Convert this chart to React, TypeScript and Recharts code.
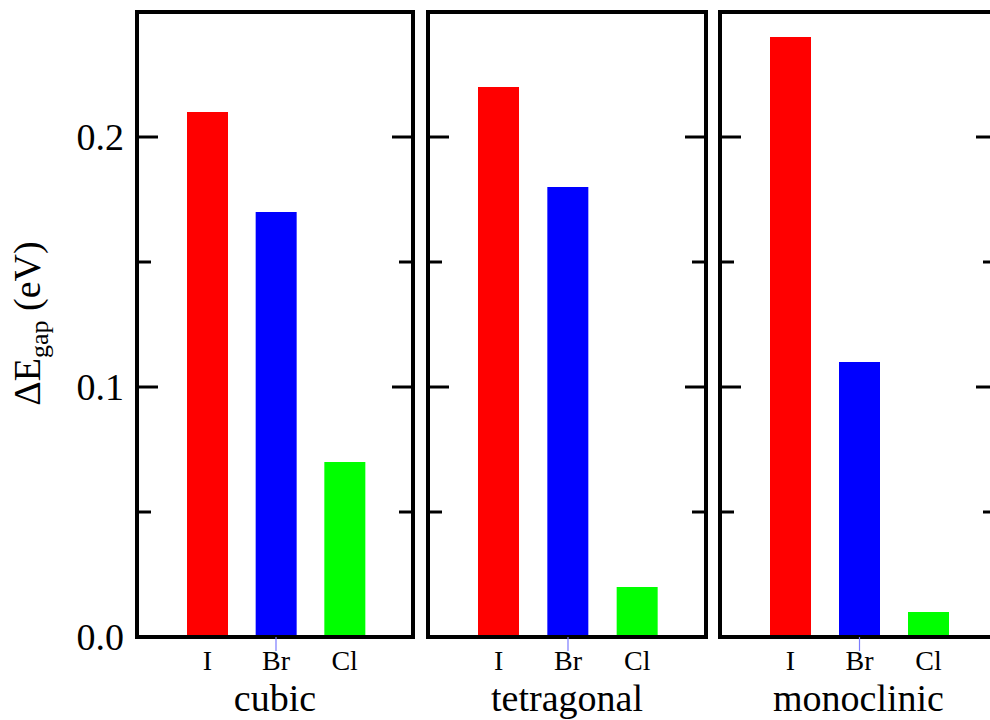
import { BarChart, Bar, XAxis, YAxis, Cell, ReferenceLine } from 'recharts';

// band gap change per halide, one array per crystal phase
const halides = ['I', 'Br', 'Cl'];
const phases = ['cubic', 'tetragonal', 'monoclinic'];
const cubicGap = [0.21, 0.17, 0.07];
const tetragonalGap = [0.22, 0.18, 0.02];
const monoclinicGap = [0.24, 0.11, 0.01];
const yTicks = [0, 0.05, 0.1, 0.15, 0.2, 0.25];
const yLabelTicks = [0, 0.1, 0.2];
const barColors = ['#ff0000', '#0000ff', '#00ff00'];

const FONT = '"Liberation Serif", "Times New Roman", serif';
const frameLine = { stroke: '#000', strokeWidth: 4, strokeLinecap: 'square' as const };

function tickLength(v: number) {
  const k = Math.round(v * 100);
  if (k === 10 || k === 20) return 21;
  if (k === 5 || k === 15) return 14;
  return 0;
}

function LeftTick(props: any) {
  const { x, y, payload, showLabel } = props;
  const len = tickLength(payload.value);
  return (
    <g>
      {len > 0 && <line x1={x} x2={x + len} y1={y} y2={y} stroke="#000" strokeWidth={3} />}
      {showLabel && yLabelTicks.includes(payload.value) && (
        <text x={x - 13} y={y} textAnchor="end" dominantBaseline="central" fontSize={38} fontFamily={FONT} fill="#000">
          {payload.value.toFixed(1)}
        </text>
      )}
    </g>
  );
}

function RightTick(props: any) {
  const { x, y, payload } = props;
  const len = tickLength(payload.value);
  if (!len) return <g />;
  return <line x1={x - len} x2={x} y1={y} y2={y} stroke="#000" strokeWidth={3} />;
}

function XTick(props: any) {
  const { x, y, payload } = props;
  return (
    <g>
      {payload.value === 'Br' && <line x1={x} x2={x} y1={y} y2={y + 14} stroke="#7b7bff" strokeWidth={1.2} />}
      <text x={x} y={y + 33} textAnchor="middle" fontSize={28} fontFamily={FONT} fill="#000">
        {payload.value}
      </text>
    </g>
  );
}

function YLabel(props: any) {
  const vb = props.viewBox || { x: 0, y: 12, width: 137, height: 625 };
  const cx = vb.x + 40;
  const cy = vb.y + vb.height / 2 - 1;
  return (
    <text x={cx} y={cy} transform={`rotate(-90, ${cx}, ${cy})`} textAnchor="middle" fontSize={38} fontFamily={FONT} fill="#000">
      ΔE
      <tspan fontSize={26} dy={8}>gap</tspan>
      <tspan dy={-8}> (eV)</tspan>
    </text>
  );
}

function Panel({ index, values, left, width }: { index: number; values: number[]; left: number; width: number }) {
  const data = halides.map((h, i) => ({ halide: h, gap: values[i] }));
  const first = index === 0;
  return (
    <div style={{ position: 'absolute', left, top: 0 }}>
      <BarChart width={width} height={720} data={data} margin={{ top: 12, right: 0, bottom: 0, left: 0 }}>
        <XAxis
          dataKey="halide"
          height={83}
          tickSize={0}
          tickMargin={0}
          axisLine={frameLine}
          tickLine={false}
          padding={{ left: 36, right: 34 }}
          interval={0}
          tick={<XTick />}
          label={{
            content: (p: any) => {
              const vb = p.viewBox || { x: 0, y: 637, width, height: 83 };
              return (
                <text x={vb.x + vb.width / 2} y={vb.y + vb.height - 9} textAnchor="middle" fontSize={38} fontFamily={FONT} fill="#000">
                  {phases[index]}
                </text>
              );
            },
          }}
        />
        <YAxis
          yAxisId="l"
          orientation="left"
          type="number"
          width={first ? 137 : 10}
          domain={[0, 0.25]}
          allowDataOverflow
          ticks={yTicks}
          interval={0}
          tickSize={0}
          tickMargin={0}
          tickLine={false}
          axisLine={frameLine}
          tick={(p: any) => <LeftTick {...p} showLabel={first} />}
          label={first ? { content: (p: any) => <YLabel {...p} /> } : undefined}
        />
        <YAxis
          yAxisId="r"
          orientation="right"
          type="number"
          width={10}
          domain={[0, 0.25]}
          allowDataOverflow
          ticks={yTicks}
          interval={0}
          tickSize={0}
          tickMargin={0}
          tickLine={false}
          axisLine={frameLine}
          tick={(p: any) => <RightTick {...p} />}
        />
        <ReferenceLine yAxisId="l" y={0.25} stroke="#000" strokeWidth={4} strokeLinecap="square" />
        <Bar yAxisId="l" dataKey="gap" barSize={41} isAnimationActive={false}>
          {data.map((d, i) => (
            <Cell key={d.halide} fill={barColors[i]} />
          ))}
        </Bar>
      </BarChart>
    </div>
  );
}

export default function App() {
  return (
    <div style={{ position: 'absolute', left: 0, top: 0, width: 990, height: 720, overflow: 'hidden', background: '#fff' }}>
      <Panel index={0} values={cubicGap} left={0} width={423} />
      <Panel index={1} values={tetragonalGap} left={418} width={298} />
      <Panel index={2} values={monoclinicGap} left={710} width={297} />
    </div>
  );
}
